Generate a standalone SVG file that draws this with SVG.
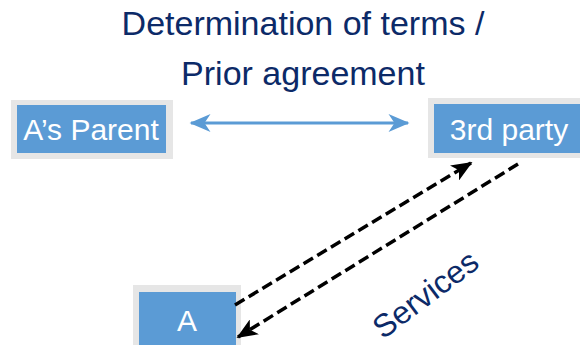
<svg xmlns="http://www.w3.org/2000/svg" width="580" height="345" viewBox="0 0 580 345">
  <style>
    .frame { fill: #e6e6e6; }
    .box { fill: #5b9bd5; }
    .label { font-family: "Liberation Sans", Arial, sans-serif; font-size: 30px; fill: #ffffff; text-anchor: middle; }
    .title { font-family: "Liberation Sans", Arial, sans-serif; font-size: 34px; fill: #0c2a68; text-anchor: middle; }
    .caption { font-family: "Liberation Sans", Arial, sans-serif; font-size: 32px; fill: #0c2a68; text-anchor: middle; }
    .dash { stroke: #000000; stroke-width: 3.5; stroke-dasharray: 11 5; fill: none; }
    .link { stroke: #5b9bd5; stroke-width: 3; fill: none; }
  </style>
  <defs>
    <marker id="blackHead" viewBox="0 0 12 10" refX="11" refY="5" markerWidth="6" markerHeight="5" markerUnits="strokeWidth" orient="auto">
      <path d="M0,0 L12,5 L0,10 L3,5 Z" fill="#000000"/>
    </marker>
    <marker id="blueHead" viewBox="0 0 14 12" refX="13" refY="6" markerWidth="8" markerHeight="6" markerUnits="strokeWidth" orient="auto-start-reverse">
      <path d="M0,0 L14,6 L0,12 L4,6 Z" fill="#5b9bd5"/>
    </marker>
  </defs>

  <rect width="580" height="345" fill="#ffffff"/>

  <text class="title" x="303" y="35">Determination of terms /</text>
  <text class="title" x="303" y="85">Prior agreement</text>

  <g id="parent">
    <rect class="frame" x="11" y="100" width="162" height="59"/>
    <rect class="box" x="17" y="105" width="149" height="48"/>
    <text class="label" x="91" y="140">A’s Parent</text>
  </g>

  <g id="third-party">
    <rect class="frame" x="428" y="98" width="160" height="60"/>
    <rect class="box" x="434" y="104" width="154" height="49"/>
    <text class="label" x="509" y="140">3rd party</text>
  </g>

  <g id="a">
    <rect class="frame" x="133" y="285" width="108" height="70"/>
    <rect class="box" x="139" y="292" width="97" height="60"/>
    <text class="label" x="187" y="331">A</text>
  </g>

  <g id="connectors">
    <line class="link" x1="191" y1="123" x2="408" y2="123" marker-start="url(#blueHead)" marker-end="url(#blueHead)"/>
    <line class="dash" x1="235" y1="305" x2="471" y2="163" marker-end="url(#blackHead)"/>
    <line class="dash" x1="518" y1="164" x2="238" y2="337" marker-end="url(#blackHead)"/>
  </g>

  <text class="caption" transform="translate(432,303) rotate(-37)">Services</text>
</svg>
